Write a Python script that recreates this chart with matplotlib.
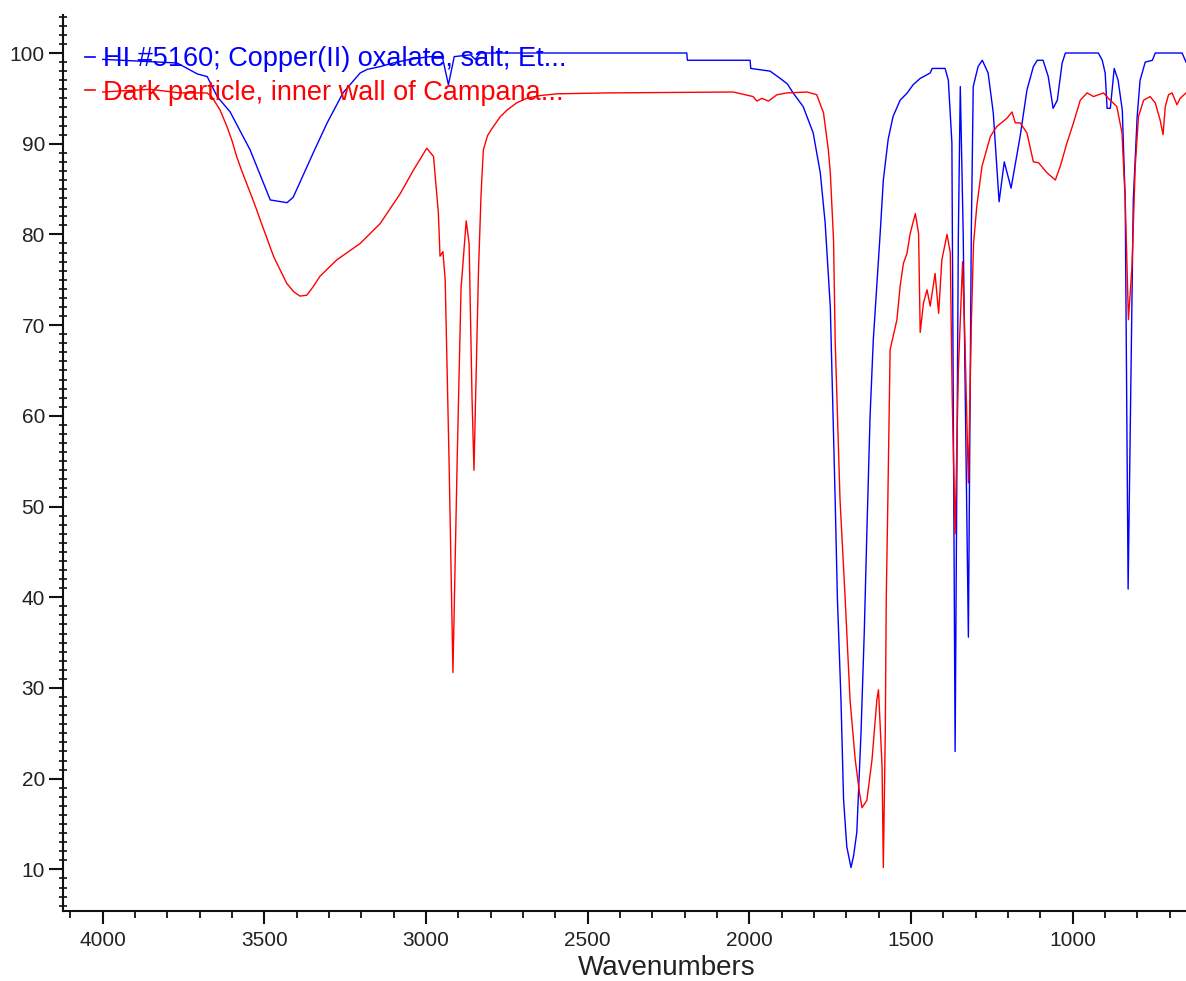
import matplotlib
matplotlib.use("Agg")
import matplotlib.pyplot as plt
from matplotlib.lines import Line2D
from matplotlib.ticker import MultipleLocator

plt.rcParams["font.family"] = ["Liberation Sans", "DejaVu Sans"]

# reference spectrum: HI #5160, copper(II) oxalate (wavenumber, %T)
ref_wn = [4000, 3770, 3708, 3677, 3646, 3606, 3544, 3482, 3430, 3411, 3349,
          3306, 3257, 3204, 3182, 3142, 3102, 3050, 2988, 2950, 2931, 2913,
          2863, 2848, 2832, 2194, 2192, 1998, 1996, 1936, 1905, 1883, 1865,
          1834, 1803, 1781, 1766, 1750, 1735, 1728, 1717, 1709, 1699, 1686,
          1678, 1668, 1655, 1645, 1637, 1627, 1617, 1596, 1586, 1571, 1556,
          1534, 1512, 1494, 1472, 1441, 1435, 1395, 1385, 1374, 1364, 1354,
          1348, 1339, 1323, 1314, 1308, 1293, 1280, 1262, 1246, 1228, 1212,
          1191, 1163, 1142, 1122, 1110, 1092, 1076, 1061, 1048, 1033, 1023,
          921, 909, 900, 894, 884, 872, 860, 847, 838, 829, 813, 801, 792,
          776, 754, 745, 662, 650]
ref_t = [99.3, 98.9, 97.7, 97.4, 95.2, 93.5, 89.3, 83.8, 83.5, 84.1, 89.0,
         92.3, 95.6, 97.8, 98.2, 98.5, 98.9, 99.3, 99.6, 99.6, 96.5, 99.6,
         99.8, 99.3, 100.0, 100.0, 99.2, 99.2, 98.3, 98.0, 97.2, 96.6, 95.6,
         94.1, 91.2, 86.8, 81.3, 72.0, 50.8, 39.8, 28.7, 17.7, 12.5, 10.2,
         11.5, 14.1, 25.1, 36.1, 47.1, 60.0, 68.4, 80.0, 86.0, 90.5, 93.0,
         94.8, 95.6, 96.5, 97.2, 97.8, 98.3, 98.3, 97.0, 90.1, 23.0, 80.0,
         96.3, 80.0, 35.6, 80.0, 96.3, 98.5, 99.2, 97.8, 93.4, 83.6, 88.0,
         85.1, 90.8, 95.9, 98.5, 99.2, 99.2, 97.4, 93.9, 94.8, 98.9, 100.0,
         100.0, 99.2, 97.8, 93.9, 93.9, 98.3, 97.0, 93.7, 83.8, 40.9, 83.8,
         93.0, 97.0, 99.0, 99.2, 100.0, 100.0, 99.0]

# sample: dark particle, inner wall of Campana (wavenumber, %T)
smp_wn = [4000, 3854, 3761, 3678, 3663, 3637, 3616, 3600, 3586, 3570, 3555,
          3530, 3513, 3472, 3450, 3431, 3410, 3390, 3369, 3350, 3328, 3276,
          3204, 3142, 3080, 3039, 2998, 2977, 2962, 2957, 2948, 2941, 2929,
          2917, 2904, 2892, 2876, 2867, 2858, 2852, 2845, 2838, 2830, 2823,
          2810, 2792, 2770, 2750, 2720, 2689, 2650, 2596, 2441, 2050, 1989,
          1977, 1962, 1941, 1915, 1884, 1822, 1792, 1771, 1756, 1750, 1740,
          1735, 1720, 1704, 1689, 1673, 1660, 1652, 1637, 1621, 1606, 1601,
          1590, 1586, 1580, 1577, 1572, 1565, 1544, 1534, 1524, 1513, 1503,
          1487, 1477, 1472, 1462, 1451, 1441, 1426, 1415, 1405, 1389, 1379,
          1373, 1364, 1354, 1341, 1333, 1323, 1314, 1307, 1297, 1281, 1255,
          1235, 1204, 1188, 1178, 1163, 1142, 1122, 1106, 1080, 1054, 1039,
          1018, 998, 977, 956, 936, 920, 905, 890, 864, 848, 838, 828, 817,
          807, 797, 781, 761, 745, 730, 721, 714, 704, 693, 678, 668, 650]
smp_t = [95.7, 96.0, 95.6, 95.6, 95.2, 93.7, 91.9, 90.3, 88.6, 87.0, 85.6,
         83.3, 81.6, 77.6, 76.0, 74.6, 73.7, 73.2, 73.3, 74.2, 75.4, 77.2,
         79.0, 81.2, 84.5, 87.1, 89.5, 88.6, 82.3, 77.6, 78.1, 75.0, 55.0,
         31.7, 55.0, 74.0, 81.5, 79.0, 62.0, 54.0, 65.0, 76.0, 84.5, 89.3,
         90.9, 91.9, 93.0, 93.7, 94.5, 95.0, 95.3, 95.5, 95.6, 95.7, 95.2,
         94.7, 95.0, 94.7, 95.4, 95.6, 95.7, 95.4, 93.4, 89.3, 86.8, 79.4,
         68.4, 50.8, 39.8, 28.7, 22.1, 18.5, 16.8, 17.6, 22.1, 28.7, 29.8,
         21.4, 10.2, 25.1, 39.8, 50.8, 67.3, 70.6, 74.3, 76.8, 77.9, 80.1,
         82.3, 80.1, 69.2, 72.4, 73.9, 72.1, 75.7, 71.3, 77.2, 80.0, 78.0,
         62.0, 47.0, 65.0, 77.0, 67.3, 52.6, 70.0, 79.0, 83.1, 87.5, 90.8,
         91.9, 92.8, 93.5, 92.3, 92.3, 91.2, 88.0, 87.9, 86.8, 86.0, 87.5,
         90.1, 92.3, 94.8, 95.6, 95.2, 95.4, 95.6, 95.0, 94.1, 91.2, 83.8,
         70.6, 76.5, 87.5, 93.0, 94.8, 95.2, 94.5, 92.6, 91.0, 94.1, 95.4,
         95.6, 94.3, 95.0, 95.6]

labels = ["HI #5160; Copper(II) oxalate, salt; Et...",
          "Dark particle, inner wall of Campana..."]
colors = ["#0000ff", "#ff0000"]

fig = plt.figure(figsize=(11.86, 9.81), dpi=100)
ax = fig.add_axes([0.0531, 0.0717, 0.9469, 0.9131])

ax.plot(ref_wn, ref_t, color=colors[0], lw=1.0)
ax.plot(smp_wn, smp_t, color=colors[1], lw=1.0)

ax.set_xlim(4123, 650)
ax.set_ylim(5.45, 104.2)

for side in ("top", "right"):
    ax.spines[side].set_visible(False)
for side in ("left", "bottom"):
    ax.spines[side].set_linewidth(1.5)
    ax.spines[side].set_color("#111111")

ax.xaxis.set_major_locator(MultipleLocator(500))
ax.xaxis.set_minor_locator(MultipleLocator(100))
ax.yaxis.set_major_locator(MultipleLocator(10))
ax.yaxis.set_minor_locator(MultipleLocator(1))
ax.set_yticks(range(10, 101, 10))
ax.set_xticks(range(1000, 4001, 500))

ax.tick_params(axis="x", which="major", direction="out", length=9, width=1.5,
               labelsize=15, pad=6, colors="#111111", labelcolor="#222222")
ax.tick_params(axis="x", which="minor", direction="out", length=5, width=1.3,
               colors="#111111")
ax.tick_params(axis="y", which="major", direction="out", length=10, width=1.5,
               labelsize=15, pad=3, colors="#111111", labelcolor="#222222")
ax.tick_params(axis="y", which="minor", direction="inout", length=6, width=1.2,
               colors="#111111")

ax.set_xlabel("Wavenumbers", fontsize=20, color="#222222")
ax.xaxis.set_label_coords(0.538, -0.05)

handles = [Line2D([], [], color=c, lw=1.2) for c in colors]
leg = ax.legend(handles, labels, loc="upper left", bbox_to_anchor=(0.0196, 0.965),
                frameon=False, fontsize=19.5, handlelength=0.37, handletextpad=0.3,
                labelspacing=0.27, borderpad=0, borderaxespad=0)
for txt, c in zip(leg.get_texts(), colors):
    txt.set_color(c)

fig.savefig("out.png", dpi=100)
